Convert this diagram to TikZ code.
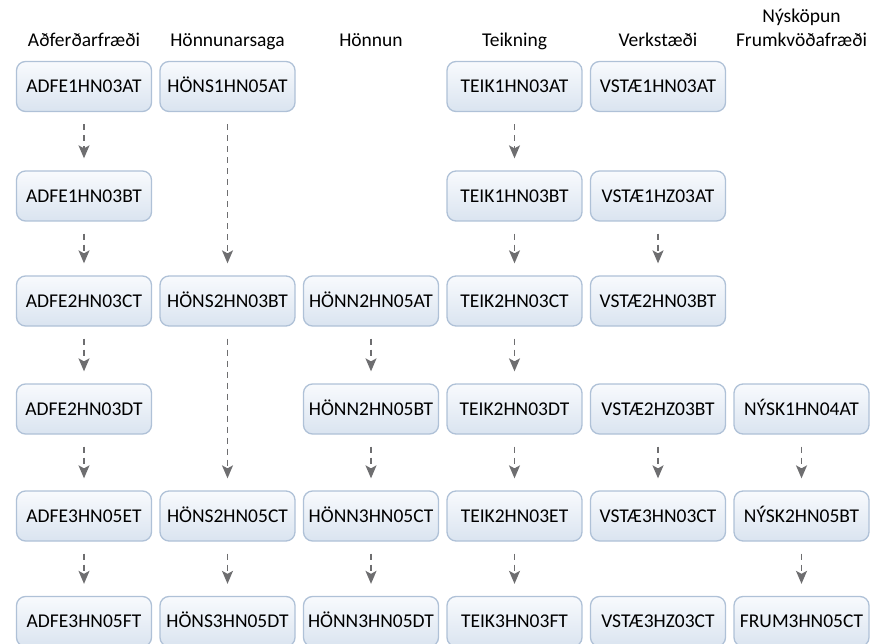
\documentclass[tikz,border=0pt]{standalone}
\usepackage{fontspec}
\setmainfont{Carlito}
\usetikzlibrary{arrows.meta}
\definecolor{boxline}{HTML}{AFC1D7}
\definecolor{boxtop}{HTML}{F8FAFD}
\definecolor{boxbot}{HTML}{DAE4F0}
\definecolor{arrowgray}{HTML}{6E6E70}
\tikzset{
  course/.style={draw=boxline, line width=1.3pt, rounded corners=9pt,
    top color=boxtop, bottom color=boxbot,
    minimum width=135pt, minimum height=50pt, inner sep=0pt,
    font=\fontsize{19.5}{24}\selectfont, text height=12.6pt, text depth=0pt},
  header/.style={font=\fontsize{19.5}{24}\selectfont, inner sep=0pt, anchor=base, align=center},
  flow/.style={draw=arrowgray, line width=1.5pt, dash pattern=on 6pt off 5pt,
    -{Stealth[length=13pt,width=11pt,inset=3pt]}, arrowgray,
    shorten <=12pt, shorten >=12pt}
}
\begin{document}
\begin{tikzpicture}[x=1pt,y=-1pt]
\useasboundingbox (0,0) rectangle (875,644);
% column x
\def\ca{84}\def\cb{227.5}\def\cc{371}\def\cd{514.5}\def\ce{658}\def\cf{801.5}
% row y
\def\ra{86.5}\def\rb{196}\def\rc{301}\def\rd{409}\def\re{516}\def\rf{621.5}
% headers
\node[header] (h1) at (\ca,47) {Aðferðarfræði};
\node[header] (h2) at (\cb,47) {Hönnunarsaga};
\node[header] (h3) at (\cc,47) {Hönnun};
\node[header] (h4) at (\cd,47) {Teikning};
\node[header] (h5) at (\ce,47) {Verkstæði};
\node[header] (h6) at (\cf,47) {Nýsköpun\\Frumkvöðafræði};
% column 1
\node[course] (a1) at (\ca,\ra) {ADFE1HN03AT};
\node[course] (a2) at (\ca,\rb) {ADFE1HN03BT};
\node[course] (a3) at (\ca,\rc) {ADFE2HN03CT};
\node[course] (a4) at (\ca,\rd) {ADFE2HN03DT};
\node[course] (a5) at (\ca,\re) {ADFE3HN05ET};
\node[course] (a6) at (\ca,\rf) {ADFE3HN05FT};
% column 2
\node[course] (b1) at (\cb,\ra) {HÖNS1HN05AT};
\node[course] (b3) at (\cb,\rc) {HÖNS2HN03BT};
\node[course] (b5) at (\cb,\re) {HÖNS2HN05CT};
\node[course] (b6) at (\cb,\rf) {HÖNS3HN05DT};
% column 3
\node[course] (c3) at (\cc,\rc) {HÖNN2HN05AT};
\node[course] (c4) at (\cc,\rd) {HÖNN2HN05BT};
\node[course] (c5) at (\cc,\re) {HÖNN3HN05CT};
\node[course] (c6) at (\cc,\rf) {HÖNN3HN05DT};
% column 4
\node[course] (d1) at (\cd,\ra) {TEIK1HN03AT};
\node[course] (d2) at (\cd,\rb) {TEIK1HN03BT};
\node[course] (d3) at (\cd,\rc) {TEIK2HN03CT};
\node[course] (d4) at (\cd,\rd) {TEIK2HN03DT};
\node[course] (d5) at (\cd,\re) {TEIK2HN03ET};
\node[course] (d6) at (\cd,\rf) {TEIK3HN03FT};
% column 5
\node[course] (e1) at (\ce,\ra) {VSTÆ1HN03AT};
\node[course] (e2) at (\ce,\rb) {VSTÆ1HZ03AT};
\node[course] (e3) at (\ce,\rc) {VSTÆ2HN03BT};
\node[course] (e4) at (\ce,\rd) {VSTÆ2HZ03BT};
\node[course] (e5) at (\ce,\re) {VSTÆ3HN03CT};
\node[course] (e6) at (\ce,\rf) {VSTÆ3HZ03CT};
% column 6
\node[course] (f4) at (\cf,\rd) {NÝSK1HN04AT};
\node[course] (f5) at (\cf,\re) {NÝSK2HN05BT};
\node[course] (f6) at (\cf,\rf) {FRUM3HN05CT};
% arrows
\draw[flow] (a1) -- (a2);
\draw[flow] (a2) -- (a3);
\draw[flow] (a3) -- (a4);
\draw[flow] (a4) -- (a5);
\draw[flow] (a5) -- (a6);
\draw[flow] (b1) -- (b3);
\draw[flow] (b3) -- (b5);
\draw[flow] (b5) -- (b6);
\draw[flow] (c3) -- (c4);
\draw[flow] (c4) -- (c5);
\draw[flow] (c5) -- (c6);
\draw[flow] (d1) -- (d2);
\draw[flow] (d2) -- (d3);
\draw[flow] (d3) -- (d4);
\draw[flow] (d4) -- (d5);
\draw[flow] (d5) -- (d6);
\draw[flow] (e2) -- (e3);
\draw[flow] (e4) -- (e5);
\draw[flow] (f4) -- (f5);
\draw[flow] (f5) -- (f6);
\end{tikzpicture}
\end{document}
